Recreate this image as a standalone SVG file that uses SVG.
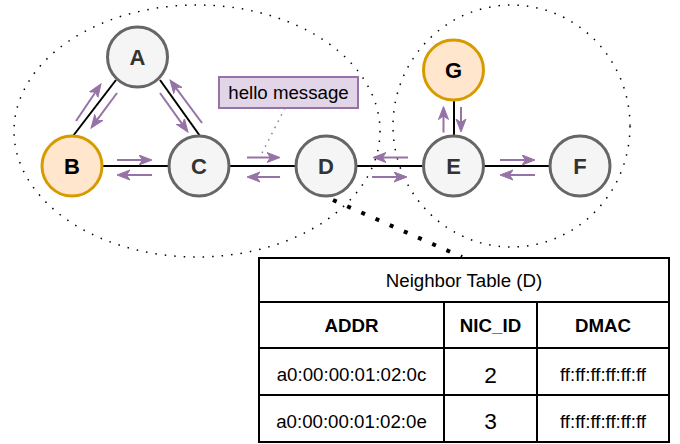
<svg xmlns="http://www.w3.org/2000/svg" width="680" height="444" viewBox="0 0 680 444">
  <style>
    .node { stroke-width: 3; }
    .gray { fill: #f5f5f5; stroke: #666666; }
    .orange { fill: #ffe6cc; stroke: #d79b00; }
    .lbl { font-family: "Liberation Sans", Arial, sans-serif; font-weight: bold; font-size: 22px; text-anchor: middle; }
    .edge { stroke: #000000; stroke-width: 2; fill: none; }
    .msg { stroke: #9673a6; stroke-width: 2; fill: none; marker-end: url(#arr); }
    .area { fill: none; stroke: #000000; stroke-width: 1.5; stroke-dasharray: 1.5 8; }
    .tbl { fill: none; stroke: #000000; stroke-width: 2; }
    .tt { font-family: "Liberation Sans", Arial, sans-serif; font-size: 18.7px; text-anchor: middle; fill: #000000; }
    .big { font-size: 22.7px; }
    .mac { font-size: 18.7px; }
  </style>
  <defs>
    <marker id="arr" markerUnits="userSpaceOnUse" markerWidth="16" markerHeight="12" refX="10" refY="5.5" orient="auto">
      <path d="M0,0.5 L13,5.5 L0,10.5 L3.5,5.5 Z" fill="#9673a6" stroke="#9673a6" stroke-width="1" stroke-linejoin="miter"/>
    </marker>
  </defs>

  <!-- dotted areas -->
  <g id="areas">
    <ellipse class="area" cx="197" cy="131" rx="183" ry="126"/>
    <ellipse class="area" cx="511.5" cy="126" rx="118.5" ry="121"/>
  </g>

  <!-- connectors -->
  <g id="connectors">
    <line class="edge" x1="116" y1="80" x2="73" y2="136"/>
    <line class="edge" x1="160" y1="80" x2="200" y2="136"/>
    <line class="edge" x1="102" y1="166" x2="169" y2="166"/>
    <line class="edge" x1="229" y1="166" x2="296" y2="166"/>
    <line class="edge" x1="356" y1="166" x2="423" y2="166"/>
    <line class="edge" x1="483" y1="166" x2="550" y2="166"/>
    <line class="edge" x1="454" y1="101" x2="454" y2="136"/>

    <!-- hello message pointer -->
    <line x1="285" y1="108" x2="260" y2="157" stroke="#9673a6" stroke-width="1.5" stroke-dasharray="1.5 5.5" fill="none"/>
    <!-- table pointer -->
    <line x1="333" y1="200" x2="462" y2="257" stroke="#000000" stroke-width="4" stroke-dasharray="4 11.5" fill="none"/>

    <!-- message arrows -->
    <line class="msg" x1="76" y1="121" x2="99.3" y2="86.5"/>
    <line class="msg" x1="117" y1="93" x2="92.8" y2="125.6"/>
    <line class="msg" x1="160" y1="93" x2="186.2" y2="129.6"/>
    <line class="msg" x1="202" y1="123" x2="171.8" y2="82.4"/>
    <line class="msg" x1="117" y1="160" x2="149" y2="160"/>
    <line class="msg" x1="152" y1="175" x2="120" y2="175"/>
    <line class="msg" x1="247" y1="157.5" x2="277" y2="157.5"/>
    <line class="msg" x1="280" y1="177" x2="250" y2="177"/>
    <line class="msg" x1="408" y1="157.5" x2="376" y2="157.5"/>
    <line class="msg" x1="372" y1="177" x2="404" y2="177"/>
    <line class="msg" x1="500" y1="160" x2="532" y2="160"/>
    <line class="msg" x1="535" y1="175" x2="503" y2="175"/>
    <line class="msg" x1="443.5" y1="132.5" x2="443.5" y2="109.5"/>
    <line class="msg" x1="461" y1="107" x2="461" y2="129"/>
  </g>

  <!-- nodes -->
  <g id="node-A">
    <circle class="node gray" cx="137.5" cy="57" r="30"/>
    <text class="lbl" x="137.5" y="65" fill="#333333">A</text>
  </g>
  <g id="node-B">
    <circle class="node orange" cx="72" cy="166" r="30"/>
    <text class="lbl" x="72" y="174" fill="#000000">B</text>
  </g>
  <g id="node-C">
    <circle class="node gray" cx="199" cy="166" r="30"/>
    <text class="lbl" x="199" y="174" fill="#333333">C</text>
  </g>
  <g id="node-D">
    <circle class="node gray" cx="326" cy="166" r="30"/>
    <text class="lbl" x="326" y="174" fill="#333333">D</text>
  </g>
  <g id="node-E">
    <circle class="node gray" cx="453.5" cy="166" r="30"/>
    <text class="lbl" x="453.5" y="174" fill="#333333">E</text>
  </g>
  <g id="node-F">
    <circle class="node gray" cx="580" cy="166" r="30"/>
    <text class="lbl" x="580" y="174" fill="#333333">F</text>
  </g>
  <g id="node-G">
    <circle class="node orange" cx="453.5" cy="70" r="30"/>
    <text class="lbl" x="453.5" y="78" fill="#000000">G</text>
  </g>

  <g id="hello-message">
    <rect x="219" y="77" width="139" height="31" fill="#e1d5e7" stroke="#9673a6" stroke-width="2"/>
    <text class="tt" x="288.5" y="99">hello message</text>
  </g>

  <g id="neighbor-table">
    <rect class="tbl" x="259" y="258" width="410" height="184" fill="#ffffff"/>
    <line class="tbl" x1="259" y1="302" x2="669" y2="302"/>
    <line class="tbl" x1="259" y1="348" x2="669" y2="348"/>
    <line class="tbl" x1="259" y1="395" x2="669" y2="395"/>
    <line class="tbl" x1="444" y1="302" x2="444" y2="442"/>
    <line class="tbl" x1="537" y1="302" x2="537" y2="442"/>
    <text class="tt" x="464" y="287">Neighbor Table (D)</text>
    <text class="tt" x="351.5" y="332" font-weight="bold">ADDR</text>
    <text class="tt" x="490.5" y="332" font-weight="bold">NIC_ID</text>
    <text class="tt" x="603" y="332" font-weight="bold">DMAC</text>
    <text class="tt" x="351.5" y="381">a0:00:00:01:02:0c</text>
    <text class="tt big" x="490.5" y="382.5">2</text>
    <text class="tt mac" x="603" y="381" textLength="86" lengthAdjust="spacingAndGlyphs">ff:ff:ff:ff:ff:ff</text>
    <text class="tt" x="351.5" y="427.5">a0:00:00:01:02:0e</text>
    <text class="tt big" x="490.5" y="429">3</text>
    <text class="tt mac" x="603" y="427.5" textLength="86" lengthAdjust="spacingAndGlyphs">ff:ff:ff:ff:ff:ff</text>
  </g>
</svg>
